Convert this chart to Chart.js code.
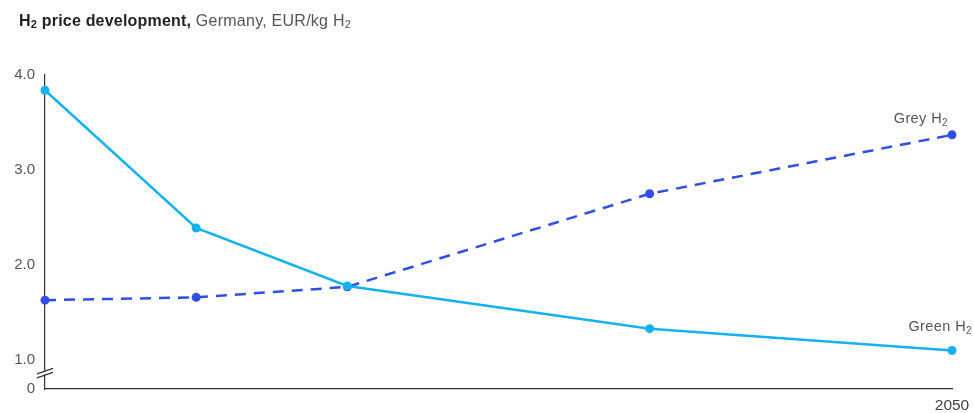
<!DOCTYPE html>
<html>
<head>
<meta charset="utf-8">
<script src="https://cdn.jsdelivr.net/npm/chart.js@4"></script>
<style>
    body { margin: 0; background: #fff; }
    .wrap { position: relative; width: 974px; height: 413px; }
    .title {
        position: absolute; left: 19px; top: 12px;
        font-family: "Liberation Sans", Arial, sans-serif;
        font-size: 16px; color: #555; letter-spacing: 0.25px;
    }
    .title b { color: #222; letter-spacing: 0.2px; }
    .title sub { font-size: 11px; vertical-align: -2px; }
    canvas { position: absolute; left: 0; top: 0; }
</style>
</head>
<body>
<div class="wrap">
    <canvas id="graph" width="974" height="413"></canvas>
    <div class="title"><b>H<sub>2</sub> price development,</b> Germany, EUR/kg H<sub>2</sub></div>
</div>
<script>
// Price paths for hydrogen in Germany, EUR/kg
let years = [2020, 2025, 2030, 2040, 2050];
let greenH2 = [3.84, 2.39, 1.78, 1.33, 1.10];
let greyH2 = [1.63, 1.66, 1.77, 2.75, 3.37];

// Axis is broken below 1.0, the bottom tick stands for 0
let yBottom = 0.695;
let yTicks = [yBottom, 1, 2, 3, 4];
let xTickLabels = { 2050: "2050" };

let fontFamily = "'Liberation Sans', Arial, sans-serif";

function toPoints(values) {
    let points = [];
    for (let i = 0; i < years.length; i++) {
        points.push({ x: years[i], y: values[i] });
    }
    return points;
}

// Draws text with a subscript "2" at the end, right aligned at x
function labelH2(ctx, text, x, y) {
    ctx.save();
    ctx.fillStyle = "#555";
    ctx.textBaseline = "alphabetic";
    ctx.textAlign = "left";
    ctx.letterSpacing = "0.4px";
    let mainFont = "14.5px " + fontFamily;
    let subFont = "10px " + fontFamily;
    ctx.font = mainFont;
    let w = ctx.measureText(text).width;
    ctx.font = subFont;
    let sw = ctx.measureText("2").width;
    let start = x - w - sw;
    ctx.font = mainFont;
    ctx.fillText(text, start, y);
    ctx.font = subFont;
    ctx.fillText("2", start + w, y + 3);
    ctx.restore();
}

// Series names and the axis break marks
let extras = {
    id: "extras",
    afterDraw(chart) {
        let ctx = chart.ctx;
        let xs = chart.scales.x;
        let ys = chart.scales.y;
        let last = years.length - 1;

        labelH2(ctx, "Grey H", xs.getPixelForValue(years[last]) - 4, ys.getPixelForValue(greyH2[last]) - 12);
        labelH2(ctx, "Green H", xs.getPixelForValue(years[last]) + 20, ys.getPixelForValue(greenH2[last]) - 20);

        let ax = chart.chartArea.left;
        let by = ys.getPixelForValue(0.87);
        ctx.save();
        ctx.fillStyle = "#fff";
        ctx.beginPath();
        ctx.moveTo(ax - 8, by + 1.5);
        ctx.lineTo(ax + 8, by - 4);
        ctx.lineTo(ax + 8, by - 0.5);
        ctx.lineTo(ax - 8, by + 5);
        ctx.closePath();
        ctx.fill();
        ctx.strokeStyle = "#333";
        ctx.lineWidth = 1.2;
        ctx.beginPath();
        ctx.moveTo(ax - 8, by + 1.5);
        ctx.lineTo(ax + 8, by - 4);
        ctx.moveTo(ax - 8, by + 5.5);
        ctx.lineTo(ax + 8, by);
        ctx.stroke();
        ctx.restore();
    }
};

let ctx = document.getElementById("graph");
let chart = new Chart(ctx, {
    type: "line",
    data: {
        datasets: [{
            label: "Green H2",
            data: toPoints(greenH2),
            borderColor: "#16b1f0",
            backgroundColor: "#16b1f0",
            borderWidth: 2.5,
            pointRadius: 4.5,
            pointBorderWidth: 0,
            clip: false
        }, {
            label: "Grey H2",
            data: toPoints(greyH2),
            borderColor: "#2f4fe6",
            backgroundColor: "#2f4fe6",
            borderWidth: 2.5,
            borderDash: [11, 8],
            pointRadius: 4.5,
            pointBorderWidth: 0,
            clip: false
        }]
    },
    options: {
        responsive: false,
        animation: false,
        layout: { padding: { top: 75, right: 22, left: 0, bottom: 0 } },
        plugins: {
            legend: { display: false },
            tooltip: { enabled: false }
        },
        scales: {
            x: {
                type: "linear",
                min: years[0],
                max: years[years.length - 1],
                grid: { display: false, drawTicks: false },
                border: { color: "#333", width: 1.2 },
                afterBuildTicks(scale) {
                    scale.ticks = [{ value: 2050 }];
                },
                // the 2050 label may hang past the axis end
                afterFit(scale) {
                    scale.height = 24;
                    scale.paddingRight = 0;
                    scale.paddingLeft = 0;
                },
                ticks: {
                    padding: 7,
                    color: "#444",
                    font: { family: fontFamily, size: 15.5 },
                    callback: (v) => xTickLabels[v] || ""
                }
            },
            y: {
                min: yBottom,
                max: 4,
                grid: { display: false, drawTicks: false },
                border: { color: "#333", width: 1.2 },
                afterBuildTicks(scale) {
                    scale.ticks = yTicks.map(v => ({ value: v }));
                },
                afterFit(scale) { scale.width = 45; },
                ticks: {
                    padding: 10,
                    color: "#555",
                    font: { family: fontFamily, size: 15 },
                    callback: (v) => v === yBottom ? "0" : v.toFixed(1)
                }
            }
        }
    },
    plugins: [extras]
});
</script>
</body>
</html>
